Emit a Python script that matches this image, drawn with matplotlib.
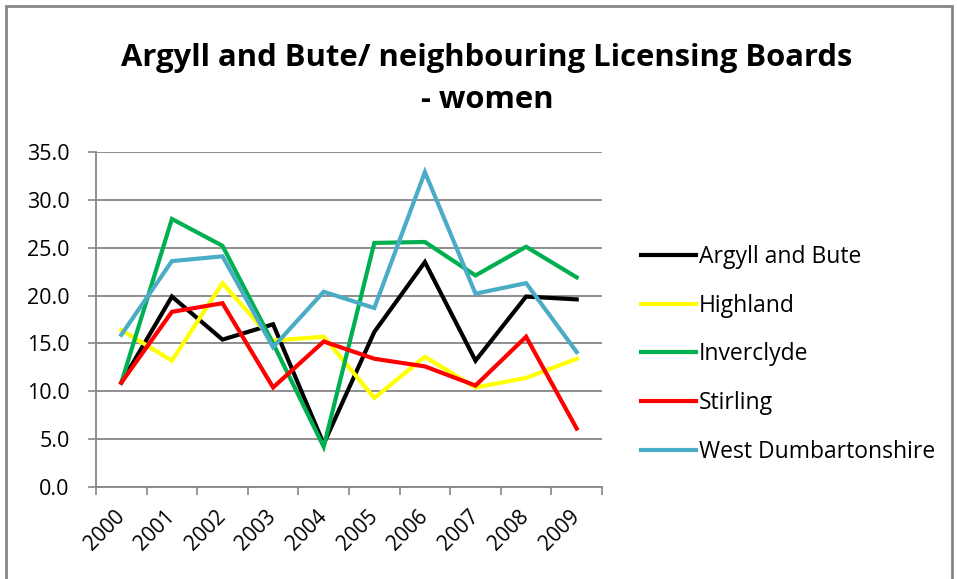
import matplotlib.pyplot as plt
from matplotlib.patches import Rectangle

# Data
years = ["2000", "2001", "2002", "2003", "2004", "2005", "2006", "2007", "2008", "2009"]
argyll = [10.9, 19.9, 15.4, 17.0, 4.5, 16.2, 23.5, 13.2, 19.9, 19.6]
highland = [16.4, 13.2, 21.3, 15.3, 15.7, 9.3, 13.6, 10.4, 11.4, 13.4]
inverclyde = [10.9, 28.0, 25.2, 15.0, 4.2, 25.5, 25.6, 22.1, 25.1, 21.9]
stirling = [10.9, 18.3, 19.2, 10.4, 15.2, 13.4, 12.6, 10.6, 15.7, 6.1]
west_dunb = [15.9, 23.6, 24.1, 14.6, 20.4, 18.7, 32.9, 20.2, 21.3, 14.1]

series = [
    ("Argyll and Bute", argyll, "#000000"),
    ("Highland", highland, "#FFFF00"),
    ("Inverclyde", inverclyde, "#00B050"),
    ("Stirling", stirling, "#FF0000"),
    ("West Dumbartonshire", west_dunb, "#4BACC6"),
]

plt.rcParams['font.family'] = ['Open Sans', 'DejaVu Sans']
GRID = "#868686"

W, H = 957, 579
fig = plt.figure(figsize=(W / 100, H / 100), dpi=100)
ax = fig.add_axes([96 / W, 1 - 487 / H, (602 - 96) / W, (487 - 152) / H])

x = list(range(len(years)))
for name, vals, col in series:
    ax.plot(x, vals, color=col, lw=3, label=name, solid_joinstyle='miter')

ax.set_xlim(-0.5, len(years) - 0.5)
ax.set_ylim(0, 35)
ax.set_yticks([0, 5, 10, 15, 20, 25, 30, 35])
ax.set_yticklabels([f"{v:.1f}" for v in [0, 5, 10, 15, 20, 25, 30, 35]])
ax.set_xticks(x)
ax.set_xticklabels(years, rotation=45, ha='right', va='center', rotation_mode='anchor')
ax.set_xticks([i - 0.5 for i in range(len(years) + 1)], minor=True)
ax.tick_params(axis='x', which='major', length=0, pad=19, labelsize=15)
ax.tick_params(axis='x', which='minor', length=6, color=GRID, width=1.2)
ax.tick_params(axis='y', length=6, color=GRID, width=1.2, pad=13, labelsize=15.5)

ax.yaxis.grid(True, color=GRID, lw=1.3)
ax.set_axisbelow(True)
for s in ['top', 'right']:
    ax.spines[s].set_visible(False)
for s in ['left', 'bottom']:
    ax.spines[s].set_color(GRID)
    ax.spines[s].set_linewidth(1.3)

fig.text(487 / W, 1 - 79 / H, "Argyll and Bute/ neighbouring Licensing Boards\n- women",
         ha='center', va='center', fontsize=22.3, fontweight='bold', linespacing=1.55)

leg = fig.legend(loc='upper left', bbox_to_anchor=(641 / W, 1 - 245 / H), frameon=False,
                 fontsize=16.5, handlelength=2.4, handletextpad=0.13, labelspacing=1.08,
                 borderpad=0, borderaxespad=0)
for line in leg.get_lines():
    line.set_linewidth(3)

fig.patches.append(Rectangle((6 / W, -0.05), (952 - 6) / W, 1 - 6 / H + 0.05,
                             transform=fig.transFigure, fill=False, ec=GRID, lw=2))

fig.savefig("out.png", dpi=100)
